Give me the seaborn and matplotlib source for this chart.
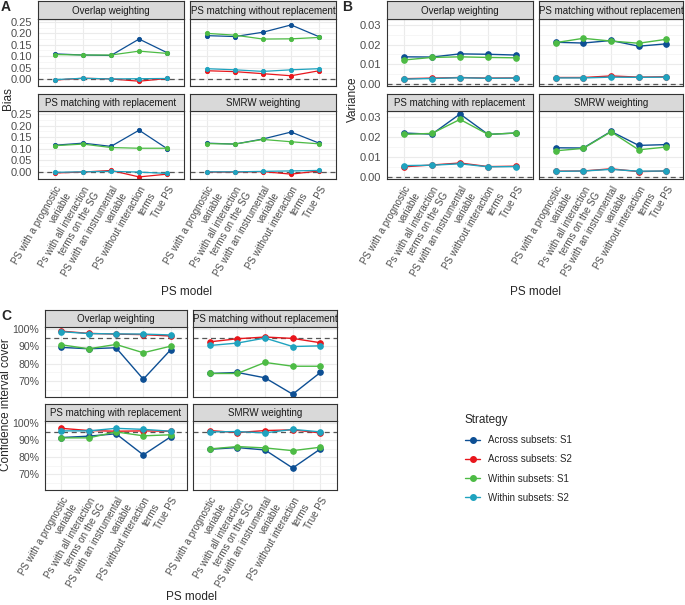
import numpy as np
import pandas as pd
import matplotlib
matplotlib.use("Agg")
import matplotlib.pyplot as plt
from matplotlib.lines import Line2D
from matplotlib.ticker import FuncFormatter, MultipleLocator
import seaborn as sns

# ── DATA ───────────────────────────────────────────────
models = ["PS with a prognostic\nvariable", "Ps with all interaction\nterms on the SG",
          "PS with an instrumental\nvariable", "PS without interaction\nterms", "True PS"]
methods = ["Overlap weighting", "PS matching without replacement",
           "PS matching with replacement", "SMRW weighting"]
strategies = ["Across subsets: S1", "Across subsets: S2",
              "Within subsets: S1", "Within subsets: S2"]
colors = ["#0d4f94", "#e8161c", "#4dbb45", "#1fa3bf"]

# one list per strategy, per method
bias_ow = [[0.110, 0.105, 0.103, 0.175, 0.115], [-0.005, 0.003, 0.000, -0.010, 0.002],
           [0.107, 0.105, 0.105, 0.122, 0.112], [-0.003, 0.003, 0.000, 0.001, 0.002]]
bias_nr = [[0.190, 0.186, 0.205, 0.237, 0.185], [0.036, 0.032, 0.023, 0.014, 0.036],
           [0.200, 0.192, 0.175, 0.176, 0.182], [0.045, 0.040, 0.033, 0.040, 0.045]]
bias_wr = [[0.115, 0.124, 0.110, 0.180, 0.100], [-0.005, -0.001, 0.006, -0.022, -0.010],
           [0.113, 0.120, 0.105, 0.102, 0.102], [-0.002, 0.000, 0.002, -0.001, -0.007]]
bias_sm = [[0.124, 0.120, 0.142, 0.172, 0.124], [-0.001, -0.001, 0.001, -0.010, 0.004],
           [0.122, 0.120, 0.140, 0.130, 0.121], [0.000, 0.000, 0.002, 0.004, 0.006]]

var_ow = [[0.0138, 0.0137, 0.0153, 0.0151, 0.0147], [0.0027, 0.0030, 0.0033, 0.0030, 0.0031],
          [0.0122, 0.0135, 0.0138, 0.0135, 0.0133], [0.0025, 0.0028, 0.0032, 0.0029, 0.0030]]
var_nr = [[0.0212, 0.0208, 0.0221, 0.0192, 0.0204], [0.0033, 0.0033, 0.0041, 0.0035, 0.0037],
          [0.0210, 0.0232, 0.0218, 0.0207, 0.0227], [0.0031, 0.0031, 0.0035, 0.0034, 0.0035]]
var_wr = [[0.0220, 0.0214, 0.0315, 0.0213, 0.0220], [0.0051, 0.0060, 0.0070, 0.0052, 0.0054],
          [0.0213, 0.0218, 0.0288, 0.0213, 0.0220], [0.0057, 0.0059, 0.0066, 0.0051, 0.0052]]
var_sm = [[0.0146, 0.0145, 0.0228, 0.0158, 0.0162], [0.0029, 0.0030, 0.0041, 0.0027, 0.0030],
          [0.0131, 0.0143, 0.0226, 0.0136, 0.0150], [0.0028, 0.0030, 0.0038, 0.0029, 0.0030]]

cov_ow = [[89.4, 88.6, 89.2, 71.0, 88.0], [98.8, 97.5, 97.1, 96.8, 96.0],
          [90.9, 88.6, 91.1, 86.3, 90.1], [98.5, 97.4, 97.2, 97.1, 96.6]]
cov_nr = [[74.3, 74.9, 71.8, 62.3, 74.9], [92.6, 94.4, 95.4, 94.6, 92.1],
          [74.3, 74.3, 80.7, 78.5, 78.5], [90.5, 91.9, 94.8, 89.9, 90.3]]
cov_wr = [[91.5, 92.3, 93.7, 81.3, 91.9], [96.9, 95.6, 95.2, 95.4, 95.2],
          [91.3, 91.3, 94.8, 92.5, 93.1], [95.4, 95.4, 96.9, 96.3, 95.2]]
cov_sm = [[84.6, 85.6, 84.2, 73.6, 84.8], [95.6, 94.4, 95.6, 96.0, 94.2],
          [84.8, 86.2, 85.4, 83.8, 85.8], [94.8, 95.0, 94.2, 96.3, 94.8]]


def long_df(tables):
    rows = []
    for method, tab in zip(methods, tables):
        for strat, vals in zip(strategies, tab):
            for m, v in zip(models, vals):
                rows.append((method, strat, m, v))
    return pd.DataFrame(rows, columns=["method", "strategy", "model", "value"])


df_bias = long_df([bias_ow, bias_nr, bias_wr, bias_sm])
df_var = long_df([var_ow, var_nr, var_wr, var_sm])
df_cov = long_df([cov_ow, cov_nr, cov_wr, cov_sm])

# ── STYLE ──────────────────────────────────────────────
sns.set_style("white")
plt.rcParams["font.family"] = ["Liberation Sans", "DejaVu Sans"]

W, H = 685, 605
fig = plt.figure(figsize=(W / 100, H / 100), dpi=100)


def box(x0, y0, x1, y1):
    return [x0 / W, 1 - y1 / H, (x1 - x0) / W, (y1 - y0) / H]


def facet_block(df, cols, rows, strips, ylim, major, minor, fmt, href, ms, lw, ysize=8):
    for i, method in enumerate(methods):
        r, c = divmod(i, 2)
        x0, x1 = cols[c]
        y0, y1 = rows[r]
        ax = fig.add_axes(box(x0, y0, x1, y1))
        sub = df[df["method"] == method]
        ax.axhline(href, color="#555555", ls=(0, (4, 3)), lw=0.9, zorder=1)
        sns.pointplot(data=sub, x="model", y="value", hue="strategy", order=models,
                      hue_order=strategies, palette=colors, markers="o",
                      markersize=ms, linewidth=lw, errorbar=None, ax=ax, legend=False)
        ax.set_xlim(-0.6, 4.6)
        ax.set_ylim(*ylim)
        ax.yaxis.set_major_locator(MultipleLocator(major))
        ax.yaxis.set_minor_locator(MultipleLocator(minor))
        ax.yaxis.set_major_formatter(FuncFormatter(fmt))
        ax.grid(True, which="major", color="#ebebeb", lw=0.8)
        ax.grid(True, which="minor", axis="y", color="#f3f3f3", lw=0.5)
        ax.set_axisbelow(True)
        for s in ax.spines.values():
            s.set_color("#333333")
            s.set_linewidth(0.8)
        ax.set_xlabel("")
        ax.set_ylabel("")
        ax.tick_params(which="minor", length=0)
        ax.tick_params(which="major", length=2.5, width=0.6, color="#333333",
                       labelcolor="#4d4d4d", pad=1.5)
        ax.tick_params(axis="y", labelsize=ysize)
        ax.set_xticks(range(len(models)))
        if r == 1:
            ax.set_xticklabels(models, rotation=60, ha="right", va="top",
                               rotation_mode="anchor", multialignment="right", fontsize=7)
        else:
            ax.set_xticklabels([])
            ax.tick_params(axis="x", length=0)
        if c == 1:
            ax.set_yticklabels([])
            ax.tick_params(axis="y", length=0)
        # strip
        sy0, sy1 = strips[r]
        sax = fig.add_axes(box(x0, sy0, x1, sy1))
        sax.set_facecolor("#d9d9d9")
        sax.set_xticks([])
        sax.set_yticks([])
        for s in sax.spines.values():
            s.set_color("#333333")
            s.set_linewidth(0.8)
        sax.text(0.5, 0.45, method, ha="center", va="center", fontsize=7.0,
                 color="#1a1a1a", transform=sax.transAxes)


# ── PANEL A: Bias ──────────────────────────────────────
facet_block(df_bias, cols=[(38, 184), (190, 336)], rows=[(19, 86), (111, 179)],
            strips=[(1, 19), (94, 111)], ylim=(-0.031, 0.263), major=0.05, minor=0.025,
            fmt=lambda v, p: f"{v:.2f}", href=0.0, ms=3.0, lw=0.9)

# ── PANEL B: Variance ──────────────────────────────────
facet_block(df_var, cols=[(387, 533), (539, 683)], rows=[(19, 86), (111, 179)],
            strips=[(1, 19), (94, 111)], ylim=(-0.001, 0.033), major=0.01, minor=0.005,
            fmt=lambda v, p: f"{v:.2f}", href=0.0, ms=4.0, lw=1.0)

# ── PANEL C: Coverage ──────────────────────────────────
facet_block(df_cov, cols=[(45, 187), (193, 337)], rows=[(327, 397), (421, 490)],
            strips=[(310, 327), (404, 421)], ylim=(60.7, 101.2), major=10, minor=5,
            fmt=lambda v, p: f"{v:.0f}%", href=95.0, ms=4.0, lw=1.0, ysize=7.6)

# ── LABELS ─────────────────────────────────────────────
def ftext(x, y, s, **kw):
    fig.text(x / W, 1 - y / H, s, **kw)


ftext(1, 7, "A", fontsize=10, fontweight="bold", va="center")
ftext(342, 7, "B", fontsize=10, fontweight="bold", va="center")
ftext(1, 316, "C", fontsize=10, fontweight="bold", va="center")
ftext(8, 99, "Bias", fontsize=8.5, rotation=90, ha="center", va="center")
ftext(353, 99, "Variance", fontsize=8.5, rotation=90, ha="center", va="center")
ftext(6, 405, "Confidence interval cover", fontsize=8.5, rotation=90, ha="center", va="center")
ftext(187, 292, "PS model", fontsize=8.5, ha="center", va="center")
ftext(535, 292, "PS model", fontsize=8.5, ha="center", va="center")
ftext(191, 597, "PS model", fontsize=8.5, ha="center", va="center")

handles = [Line2D([0], [0], color=c, lw=1.0, marker="o", markersize=4) for c in colors]
fig.legend(handles, strategies, title="Strategy", loc="upper left",
           bbox_to_anchor=(461 / W, 1 - 410 / H), frameon=False, fontsize=7.0,
           title_fontsize=8.5, handlelength=1.6, handletextpad=0.8, labelspacing=0.95,
           alignment="left", borderaxespad=0)

fig.savefig("out.png", dpi=100)
